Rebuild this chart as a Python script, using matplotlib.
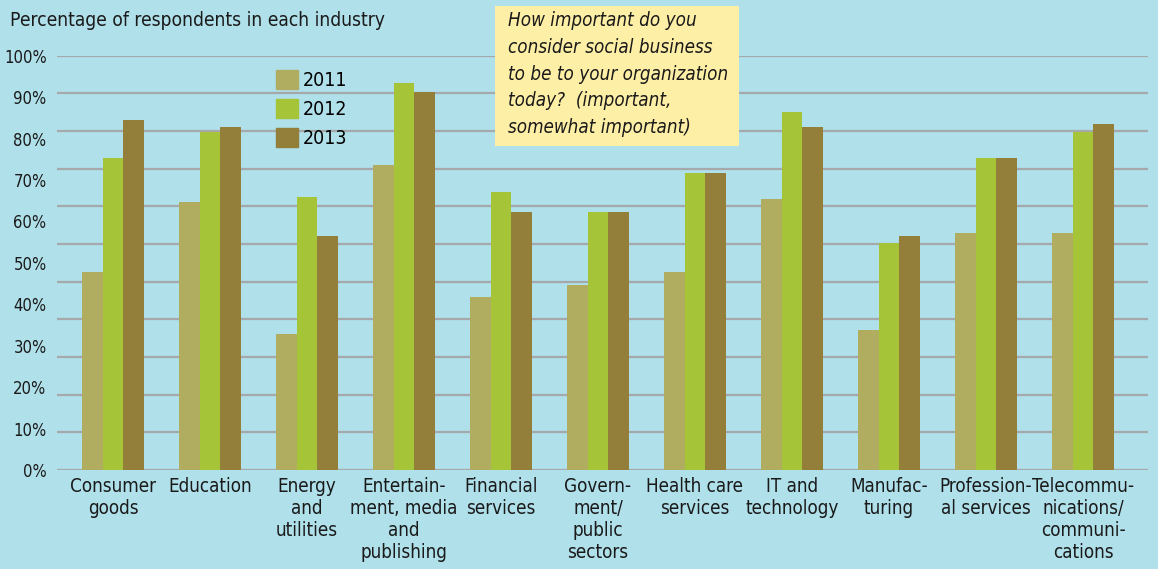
import matplotlib.pyplot as plt
import numpy as np
from matplotlib.patches import Patch, Rectangle

industries = [
    "Consumer\ngoods", "Education", "Energy\nand\nutilities",
    "Entertain-\nment, media\nand\npublishing", "Financial\nservices",
    "Govern-\nment/\npublic\nsectors", "Health care\nservices",
    "IT and\ntechnology", "Manufac-\nturing", "Profession-\nal services",
    "Telecommu-\nnications/\ncommuni-\ncations",
]
years = ["2011", "2012", "2013"]
pct_2011 = [47.7, 64.6, 32.8, 73.5, 41.7, 44.6, 47.7, 65.5, 33.7, 57.1, 57.1]
pct_2012 = [75.4, 81.6, 66.0, 93.5, 67.0, 62.2, 71.6, 86.5, 54.7, 75.4, 81.7]
pct_2013 = [84.6, 82.7, 56.6, 91.3, 62.2, 62.2, 71.6, 82.7, 56.6, 75.4, 83.4]
ytick_labels = [f"{v}%" for v in range(0, 101, 10)]

colors = ["#B0AC60", "#A6C438", "#937E3A"]
bg = "#B0E0EA"

plt.rcParams["font.family"] = ["DejaVu Sans"]
plt.rcParams["font.stretch"] = "condensed"

fig = plt.figure(figsize=(11.58, 5.69), dpi=100, facecolor=bg)
ax = fig.add_axes([57 / 1158, 1 - 470 / 569, (1148 - 57) / 1158, (470 - 55.7) / 569])
ax.set_facecolor(bg)

x = np.arange(len(industries))
w = 0.21
for i, (vals, c) in enumerate(zip([pct_2011, pct_2012, pct_2013], colors)):
    ax.bar(x + (i - 1) * w, vals, width=w, color=c, zorder=3, clip_on=False)

# the original's grid lines do not line up with its tick labels
for g in np.linspace(0, 100, 12):
    ax.axhline(g, color="#A5A9AB", lw=1.6, zorder=1)

ax.set_xlim(-0.577, 10.67)
ax.set_ylim(0, 100)
ax.set_yticks(range(0, 101, 10))
ax.set_yticklabels(ytick_labels, fontsize=12, color="#1a1a1a")
ax.set_xticks(x)
ax.set_xticklabels(industries, fontsize=13.5, color="#1a1a1a", linespacing=1.2)
ax.tick_params(length=0, axis="y", pad=7.5)
ax.tick_params(length=0, axis="x", pad=5)
for s in ax.spines.values():
    s.set_visible(False)

fig.text(10 / 1158, 1 - 20 / 569, "Percentage of respondents in each industry",
         fontsize=13.8, color="#1a1a1a", va="center", ha="left")

handles = [Patch(color=c) for c in colors]
fig.legend(handles, years, loc="upper left", bbox_to_anchor=(262 / 1158, 1 - 56 / 569),
           frameon=False, fontsize=14, handlelength=1.15, handleheight=1.15,
           handletextpad=0.25, labelspacing=0.45, borderpad=0.2)

fig.patches.append(Rectangle((495 / 1158, 1 - 146 / 569), 244 / 1158, 140 / 569,
                             transform=fig.transFigure, facecolor="#FEEFA6",
                             edgecolor="none", zorder=5))
fig.text(508 / 1158, 1 - 11 / 569,
         "How important do you\nconsider social business\nto be to your organization\n"
         "today?  (important,\nsomewhat important)",
         fontsize=13.5, style="italic", color="#1a1a1a", va="top", ha="left",
         linespacing=1.52, zorder=6)

fig.savefig("out.png", dpi=100, facecolor=bg)
